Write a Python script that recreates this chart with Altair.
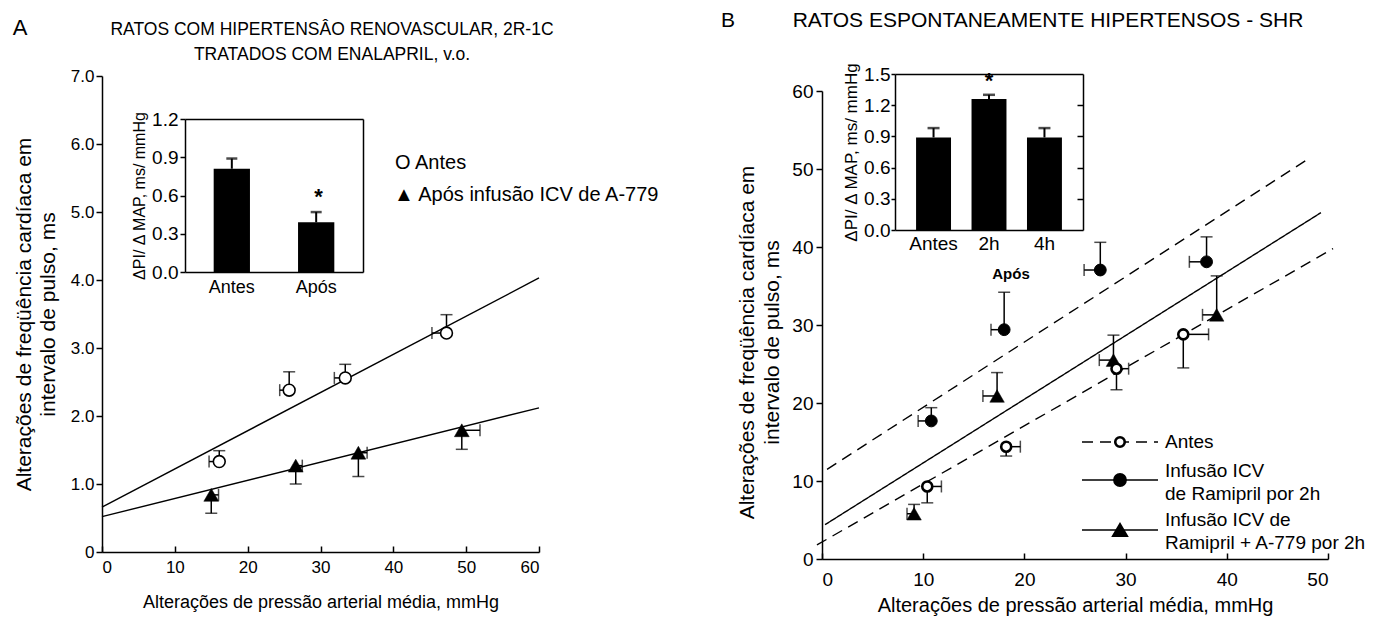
import altair as alt
import pandas as pd

# ---------------- Panel A data ----------------
a_antes_x = [16.1, 25.7, 33.4, 47.3]
a_antes_y = [1.33, 2.38, 2.56, 3.22]
a_antes_xerr = [1.4, 1.3, 1.5, 2.0]
a_antes_yerr = [0.16, 0.27, 0.20, 0.27]

a_apos_x = [15.0, 26.6, 35.2, 49.4]
a_apos_y = [0.84, 1.27, 1.46, 1.79]
a_apos_xerr = [1.0, 0.9, 1.2, 2.5]
a_apos_yerr = [0.27, 0.27, 0.35, 0.28]

a_fit_series = ["Antes", "Após"]
a_fit_x0 = [0.0, 0.0]
a_fit_y0 = [0.66, 0.52]
a_fit_x1 = [60.0, 60.0]
a_fit_y1 = [4.03, 2.12]

a_bar_cat = ["Antes", "Após"]
a_bar_val = [0.81, 0.39]
a_bar_err = [0.08, 0.08]
a_bar_sig = ["", "*"]

a_xticks = [0, 10, 20, 30, 40, 50, 60]
a_yticks = [0, 1, 2, 3, 4, 5, 6, 7]
a_inset_ticks = [0.0, 0.3, 0.6, 0.9, 1.2]

# ---------------- Panel B data ----------------
b_antes_x = [10.4, 18.2, 29.1, 35.7]
b_antes_y = [9.3, 14.4, 24.4, 28.8]
b_antes_xerr = [1.4, 1.4, 1.2, 2.5]
b_antes_yerr = [2.1, 1.2, 2.7, 4.3]

b_ram_x = [10.8, 18.0, 27.5, 38.0]
b_ram_y = [17.7, 29.4, 37.05, 38.1]
b_ram_xerr = [1.3, 1.3, 1.6, 1.7]
b_ram_yerr = [1.7, 4.8, 3.55, 3.2]

b_a779_x = [9.1, 17.3, 28.8, 39.0]
b_a779_y = [5.8, 20.9, 25.5, 31.3]
b_a779_xerr = [0.7, 1.4, 1.4, 1.4]
b_a779_yerr = [1.2, 3.0, 3.2, 5.0]

b_fit_series = ["Antes", "Ramipril", "Ramipril + A-779"]
b_fit_dash = ["dash", "dash", "solid"]
b_fit_x0 = [-0.5, 0.5, 0.3]
b_fit_y0 = [1.8, 11.5, 4.4]
b_fit_x1 = [50.5, 48.3, 49.3]
b_fit_y1 = [39.8, 51.5, 44.4]

b_bar_cat = ["Antes", "2h", "4h"]
b_bar_val = [0.89, 1.26, 0.89]
b_bar_err = [0.09, 0.04, 0.09]
b_bar_sig = ["", "*", ""]

b_xticks = [0, 10, 20, 30, 40, 50]
b_yticks = [0, 10, 20, 30, 40, 50, 60]
b_inset_ticks = [0.0, 0.3, 0.6, 0.9, 1.2, 1.5]

# ---------------- layout ----------------
W, H = 1358, 613
FA = "Liberation Sans, Arial, sans-serif"
FB = "Liberation Sans, Arial, sans-serif"
BLK = "#000000"

# pixel ranges (chart coordinates)
A_X = [94, 531]
A_Y = [544, 68]
AI_X = [177, 355]
AI_Y = [264, 111]
B_X = [814, 1320]
B_Y = [551, 83]
BI_X = [887, 1075]
BI_Y = [222, 66]


def err_df(xs, ys, xe, ye, dx, dy):
    return pd.DataFrame({
        "x": xs, "y": ys,
        "xe": [x + dx * e for x, e in zip(xs, xe)],
        "ye": [y + dy * e for y, e in zip(ys, ye)],
    })


def fit_df(series, x0, y0, x1, y1, extra=None):
    rows = []
    for i, s in enumerate(series):
        r0 = {"series": s, "x": x0[i], "y": y0[i]}
        r1 = {"series": s, "x": x1[i], "y": y1[i]}
        if extra is not None:
            r0["style"] = extra[i]
            r1["style"] = extra[i]
        rows += [r0, r1]
    return pd.DataFrame(rows)


def err_layers(df, xs, ys, cap=12, sw=1.5):
    base = alt.Chart(df)
    vr = base.mark_rule(color=BLK, strokeWidth=sw).encode(
        x=alt.X("x:Q", scale=xs, axis=None),
        y=alt.Y("y:Q", scale=ys, axis=None), y2="ye:Q")
    hr = base.mark_rule(color=BLK, strokeWidth=sw).encode(
        x=alt.X("x:Q", scale=xs, axis=None), x2="xe:Q",
        y=alt.Y("y:Q", scale=ys, axis=None))
    vc = base.mark_tick(color=BLK, orient="horizontal", size=cap, thickness=sw).encode(
        x=alt.X("x:Q", scale=xs, axis=None),
        y=alt.Y("ye:Q", scale=ys, axis=None))
    hc = base.mark_tick(color=BLK, orient="vertical", size=cap, thickness=sw).encode(
        x=alt.X("xe:Q", scale=xs, axis=None),
        y=alt.Y("y:Q", scale=ys, axis=None))
    return [vr, hr, vc, hc]


one = pd.DataFrame({"k": [0]})


def label(text, x, y, size=16, font=FB, align="center", baseline="middle",
          weight="normal", lh=None):
    kw = dict(fontSize=size, font=font, align=align, baseline=baseline,
              fontWeight=weight, color=BLK)
    if lh:
        kw["lineHeight"] = lh
    return alt.Chart(one).mark_text(**kw).encode(
        x=alt.value(x), y=alt.value(y), text=alt.value(text))


layers = []

# ================= PANEL A main =================
xA = alt.Scale(domain=[0, 60], range=A_X, nice=False, zero=False)
yA = alt.Scale(domain=[0, 7], range=A_Y, nice=False, zero=False)

dfA_fit = fit_df(a_fit_series, a_fit_x0, a_fit_y0, a_fit_x1, a_fit_y1)
layers.append(alt.Chart(dfA_fit).mark_line(color=BLK, strokeWidth=1.4).encode(
    x=alt.X("x:Q", scale=xA, axis=alt.Axis(
        orient="top", offset=-A_Y[0], values=a_xticks, labels=False, title=None,
        grid=False, tickSize=6, tickWidth=1.5, tickColor=BLK, domainColor=BLK,
        domainWidth=1.5)),
    y=alt.Y("y:Q", scale=yA, axis=alt.Axis(
        orient="left", offset=-A_X[0], values=a_yticks, grid=False,
        labelExpr="datum.value == 0 ? '0' : format(datum.value, '.1f')",
        labelFont=FA, labelFontSize=17, labelColor=BLK, labelPadding=2,
        tickSize=6, tickWidth=1.5, tickColor=BLK, domainColor=BLK, domainWidth=1.5,
        title=["Alterações de freqüência cardíaca em", "intervalo de pulso, ms"],
        titleFont=FA, titleFontSize=21, titleFontWeight="normal", titleColor=BLK,
        titlePadding=12, titleLineHeight=24)),
    detail="series:N"))

dfA_antes = err_df(a_antes_x, a_antes_y, a_antes_xerr, a_antes_yerr, -1, 1)
dfA_apos = err_df(a_apos_x, a_apos_y, a_apos_xerr, a_apos_yerr, 1, -1)
layers += err_layers(dfA_antes, xA, yA)
layers += err_layers(dfA_apos, xA, yA)

layers.append(alt.Chart(dfA_antes).mark_point(
    shape="circle", filled=True, fill="white", stroke=BLK, strokeWidth=1.6,
    size=140, opacity=1).encode(
    x=alt.X("x:Q", scale=xA, axis=alt.Axis(
        orient="bottom", offset=A_Y[0] - H, values=a_xticks, ticks=False,
        domain=False, grid=False, labelFont=FA, labelFontSize=17, labelColor=BLK,
        labelPadding=7, title="Alterações de pressão arterial média, mmHg",
        titleFont=FA, titleFontSize=18, titleFontWeight="normal", titleColor=BLK,
        titlePadding=18)),
    y=alt.Y("y:Q", scale=yA, axis=None)))
layers.append(alt.Chart(dfA_apos).mark_point(
    shape="triangle-up", filled=True, fill=BLK, stroke=BLK, strokeWidth=0.5,
    size=220, opacity=1).encode(
    x=alt.X("x:Q", scale=xA, axis=None),
    y=alt.Y("y:Q", scale=yA, axis=None)))

# ================= PANEL A inset =================
xAI = alt.Scale(domain=a_bar_cat, range=AI_X, paddingInner=0.57, paddingOuter=0.34)
yAI = alt.Scale(domain=[0, 1.2], range=AI_Y, nice=False, zero=False)
dfAI = pd.DataFrame({"cat": a_bar_cat, "val": a_bar_val, "err": a_bar_err,
                     "sig": a_bar_sig})
dfAI["top"] = dfAI["val"] + dfAI["err"]

layers.append(alt.Chart(dfAI).mark_bar(color=BLK).encode(
    x=alt.X("cat:N", sort=a_bar_cat, scale=xAI, axis=alt.Axis(
        orient="bottom", offset=AI_Y[0] - H, ticks=False, labelAngle=0, grid=False,
        labelFont=FA, labelFontSize=18, labelColor=BLK, labelPadding=6,
        domainColor=BLK, domainWidth=1.5, title=None)),
    y=alt.Y("val:Q", scale=yAI, axis=alt.Axis(
        orient="left", offset=-AI_X[0], values=a_inset_ticks, format=".1f",
        grid=False, labelFont=FA, labelFontSize=19, labelColor=BLK, labelPadding=2,
        tickSize=5, tickWidth=1.5, tickColor=BLK, domainColor=BLK, domainWidth=1.5,
        title="ΔPI/ Δ MAP, ms/ mmHg", titleFont=FA, titleFontSize=16,
        titleFontWeight="normal", titleColor=BLK, titlePadding=4))))
layers.append(alt.Chart(dfAI).mark_rule(color=BLK, strokeWidth=2).encode(
    x=alt.X("cat:N", sort=a_bar_cat, scale=xAI, axis=alt.Axis(
        orient="top", offset=-AI_Y[1], ticks=False, labels=False, grid=False,
        domainColor=BLK, domainWidth=1.5, title=None)),
    y=alt.Y("val:Q", scale=yAI, axis=alt.Axis(
        orient="left", offset=-AI_X[1], ticks=False, labels=False, grid=False,
        domainColor=BLK, domainWidth=1.5, title=None)),
    y2="top:Q"))
layers.append(alt.Chart(dfAI).mark_tick(color=BLK, orient="horizontal", size=11,
                                        thickness=2.5).encode(
    x=alt.X("cat:N", sort=a_bar_cat, scale=xAI, axis=None),
    y=alt.Y("top:Q", scale=yAI, axis=None)))
layers.append(alt.Chart(dfAI).mark_text(font=FB, fontSize=22, fontWeight="bold",
                                        color=BLK, dy=-3, baseline="bottom").encode(
    x=alt.X("cat:N", sort=a_bar_cat, scale=xAI, axis=None),
    y=alt.Y("top:Q", scale=yAI, axis=None), text="sig:N"))

# legend / titles A
layers.append(label("O Antes", 387, 155, size=20, font=FA, align="left"))
layers.append(label("▲ Após infusão ICV de A-779", 386, 187, size=20, font=FA,
                    align="left"))
layers.append(label("A", 12, 20, size=22, font=FB))
layers.append(label(["RATOS COM HIPERTENSÂO RENOVASCULAR, 2R-1C",
                     "TRATADOS COM ENALAPRIL, v.o."], 324, 13, size=17.5, font=FA,
                    baseline="top", lh=25))

# ================= PANEL B main =================
xB = alt.Scale(domain=[0, 50], range=B_X, nice=False, zero=False)
yB = alt.Scale(domain=[0, 60], range=B_Y, nice=False, zero=False)

dfB_fit = fit_df(b_fit_series, b_fit_x0, b_fit_y0, b_fit_x1, b_fit_y1, b_fit_dash)
layers.append(alt.Chart(dfB_fit).mark_line(color=BLK, strokeWidth=1.4).encode(
    x=alt.X("x:Q", scale=xB, axis=alt.Axis(
        orient="top", offset=-B_Y[0], values=b_xticks, labels=False, title=None,
        grid=False, tickSize=6, tickWidth=1.5, tickColor=BLK, domainColor=BLK,
        domainWidth=1.5)),
    y=alt.Y("y:Q", scale=yB, axis=alt.Axis(
        orient="left", offset=-B_X[0], values=b_yticks, grid=False,
        labelFont=FB, labelFontSize=19, labelColor=BLK, labelPadding=3,
        tickSize=6, tickWidth=1.5, tickColor=BLK, domainColor=BLK, domainWidth=1.5,
        title=["Alterações de freqüência cardíaca em", "intervalo de pulso, ms"],
        titleFont=FB, titleFontSize=21, titleFontWeight="normal", titleColor=BLK,
        titlePadding=9, titleLineHeight=25, titleY=334)),
    detail="series:N",
    strokeDash=alt.StrokeDash("style:N", scale=alt.Scale(
        domain=["dash", "solid"], range=[[11, 7], [1, 0]]), legend=None)))

dfB_antes = err_df(b_antes_x, b_antes_y, b_antes_xerr, b_antes_yerr, 1, -1)
dfB_ram = err_df(b_ram_x, b_ram_y, b_ram_xerr, b_ram_yerr, -1, 1)
dfB_a779 = err_df(b_a779_x, b_a779_y, b_a779_xerr, b_a779_yerr, -1, 1)
layers += err_layers(dfB_antes, xB, yB)
layers += err_layers(dfB_ram, xB, yB)
layers += err_layers(dfB_a779, xB, yB)

layers.append(alt.Chart(dfB_a779).mark_point(
    shape="triangle-up", filled=True, fill=BLK, stroke=BLK, strokeWidth=0.5,
    size=210, opacity=1).encode(
    x=alt.X("x:Q", scale=xB, axis=alt.Axis(
        orient="bottom", offset=B_Y[0] - H, values=b_xticks, ticks=False,
        domain=False, grid=False, labelFont=FB, labelFontSize=19, labelColor=BLK,
        labelPadding=11, title="Alterações de pressão arterial média, mmHg",
        titleFont=FB, titleFontSize=20, titleFontWeight="normal", titleColor=BLK,
        titlePadding=6)),
    y=alt.Y("y:Q", scale=yB, axis=None)))
layers.append(alt.Chart(dfB_antes).mark_point(
    shape="circle", filled=True, fill="white", stroke=BLK, strokeWidth=2.6,
    size=100, opacity=1).encode(
    x=alt.X("x:Q", scale=xB, axis=None),
    y=alt.Y("y:Q", scale=yB, axis=None)))
layers.append(alt.Chart(dfB_ram).mark_point(
    shape="circle", filled=True, fill=BLK, stroke=BLK, strokeWidth=1,
    size=140, opacity=1).encode(
    x=alt.X("x:Q", scale=xB, axis=None),
    y=alt.Y("y:Q", scale=yB, axis=None)))

# ================= PANEL B inset =================
xBI = alt.Scale(domain=b_bar_cat, range=BI_X, paddingInner=0.37, paddingOuter=0.38)
yBI = alt.Scale(domain=[0, 1.5], range=BI_Y, nice=False, zero=False)
dfBI = pd.DataFrame({"cat": b_bar_cat, "val": b_bar_val, "err": b_bar_err,
                     "sig": b_bar_sig})
dfBI["top"] = dfBI["val"] + dfBI["err"]

layers.append(alt.Chart(dfBI).mark_bar(color=BLK).encode(
    x=alt.X("cat:N", sort=b_bar_cat, scale=xBI, axis=alt.Axis(
        orient="bottom", offset=BI_Y[0] - H, ticks=False, labelAngle=0, grid=False,
        labelFont=FB, labelFontSize=19, labelColor=BLK, labelPadding=4,
        domainColor=BLK, domainWidth=1.5, title=None)),
    y=alt.Y("val:Q", scale=yBI, axis=alt.Axis(
        orient="left", offset=-BI_X[0], values=b_inset_ticks, format=".1f",
        grid=False, labelFont=FB, labelFontSize=19, labelColor=BLK, labelPadding=1,
        tickSize=4, tickWidth=1.5, tickColor=BLK, domainColor=BLK, domainWidth=1.5,
        title="ΔPI/ Δ MAP, ms/ mmHg", titleFont=FB, titleFontSize=17,
        titleFontWeight="normal", titleColor=BLK, titlePadding=3))))
layers.append(alt.Chart(dfBI).mark_rule(color=BLK, strokeWidth=2).encode(
    x=alt.X("cat:N", sort=b_bar_cat, scale=xBI, axis=alt.Axis(
        orient="top", offset=-BI_Y[1], ticks=False, labels=False, grid=False,
        domainColor=BLK, domainWidth=1.5, title=None)),
    y=alt.Y("val:Q", scale=yBI, axis=alt.Axis(
        orient="left", offset=-BI_X[1], values=[0.3, 0.6, 0.9, 1.2], labels=False,
        tickSize=6, tickWidth=1.5, tickColor=BLK, grid=False,
        domainColor=BLK, domainWidth=1.5, title=None)),
    y2="top:Q"))
layers.append(alt.Chart(dfBI).mark_tick(color=BLK, orient="horizontal", size=12,
                                        thickness=2.5).encode(
    x=alt.X("cat:N", sort=b_bar_cat, scale=xBI, axis=None),
    y=alt.Y("top:Q", scale=yBI, axis=None)))
layers.append(alt.Chart(dfBI).mark_text(font=FB, fontSize=22, fontWeight="bold",
                                        color=BLK, dy=-2, baseline="bottom").encode(
    x=alt.X("cat:N", sort=b_bar_cat, scale=xBI, axis=None),
    y=alt.Y("top:Q", scale=yBI, axis=None), text="sig:N"))
layers.append(label("Após", 1003, 266, size=15, font=FB, weight="bold"))

# legend B
layers.append(alt.Chart(one).mark_rule(color=BLK, strokeWidth=1.5, strokeDash=[11, 7]).encode(
    x=alt.value(1074), x2=alt.value(1150), y=alt.value(434)))
layers.append(alt.Chart(one).mark_point(shape="circle", filled=True, fill="white",
                                        stroke=BLK, strokeWidth=2.6, size=90,
                                        opacity=1).encode(
    x=alt.value(1112), y=alt.value(434)))
layers.append(alt.Chart(one).mark_rule(color=BLK, strokeWidth=1.5).encode(
    x=alt.value(1074), x2=alt.value(1150), y=alt.value(472)))
layers.append(alt.Chart(one).mark_point(shape="circle", filled=True, fill=BLK,
                                        stroke=BLK, size=140, opacity=1).encode(
    x=alt.value(1112), y=alt.value(472)))
layers.append(alt.Chart(one).mark_rule(color=BLK, strokeWidth=1.5).encode(
    x=alt.value(1074), x2=alt.value(1150), y=alt.value(522)))
layers.append(alt.Chart(one).mark_point(shape="triangle-up", filled=True, fill=BLK,
                                        stroke=BLK, size=200, opacity=1).encode(
    x=alt.value(1112), y=alt.value(522)))
layers.append(label("Antes", 1157, 434, size=19, align="left"))
layers.append(label(["Infusão ICV", "de Ramipril por 2h"], 1157, 454, size=19,
                    align="left", baseline="top", lh=23))
layers.append(label(["Infusão ICV de", "Ramipril + A-779 por 2h"], 1157, 503, size=19,
                    align="left", baseline="top", lh=23))

layers.append(label("B", 720, 13, size=21))
layers.append(label("RATOS ESPONTANEAMENTE HIPERTENSOS - SHR", 1040, 13, size=21))

chart = alt.layer(*layers).resolve_scale(
    x="independent", y="independent", strokeDash="independent"
).resolve_axis(x="independent", y="independent").properties(
    width=W, height=H, padding=0,
    autosize=alt.AutoSizeParams(type="none"),
).configure_view(stroke=None).configure_axis(labelColor=BLK)

chart.save("out.html", embed_options={"renderer": "svg", "actions": False})
